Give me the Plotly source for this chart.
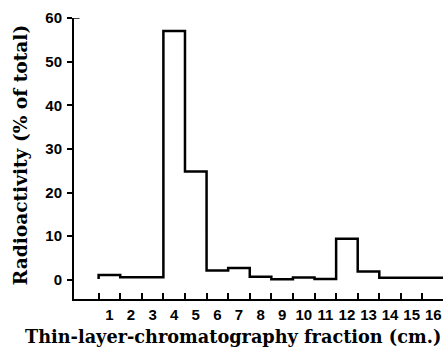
import plotly.graph_objects as go

# Data
fractions = list(range(1, 17))                      # fraction number (cm)
tick_labels = [str(f) for f in fractions]
boundaries = list(range(0, 17))                     # bin edges in cm
radioactivity = [1.1, 0.6, 0.6, 57.0, 24.8, 2.15, 2.7, 0.7,
                 0.15, 0.55, 0.2, 9.4, 1.9, 0.45, 0.45, 0.45]
start_level = 0.2
y_ticks = [0, 10, 20, 30, 40, 50, 60]

# Build step line from bin edges and values
xs = [boundaries[0]]
ys = [start_level]
for i, v in enumerate(radioactivity):
    xs += [boundaries[i], boundaries[i + 1]]
    ys += [v, v]

fig = go.Figure()
fig.add_trace(go.Scatter(x=xs, y=ys, mode="lines",
                         line=dict(color="black", width=2.5),
                         hoverinfo="skip", showlegend=False))

centers = [b + 0.5 for b in boundaries[:-1]]
tick_font = dict(family="Liberation Sans", size=15, color="black", weight="bold")

fig.update_layout(
    width=443, height=356,
    margin=dict(l=74, r=0, t=18, b=57),
    paper_bgcolor="white", plot_bgcolor="white",
    font=dict(family="Liberation Sans", color="black", size=15),
    xaxis=dict(
        range=[-1.14, 15.95], automargin=False,
        showline=True, linecolor="black", linewidth=2,
        showgrid=False, zeroline=False,
        tickmode="array", tickvals=centers, ticktext=tick_labels,
        ticks="", ticklabelstandoff=1,
        tickfont=tick_font,
        minor=dict(tickmode="array", tickvals=boundaries[:-1],
                   ticks="inside", ticklen=6, tickwidth=1.5,
                   tickcolor="black", showgrid=False),
    ),
    yaxis=dict(
        range=[-4.4, 60], automargin=False,
        showline=True, linecolor="black", linewidth=2,
        showgrid=False, zeroline=False,
        tickmode="array", tickvals=y_ticks,
        ticks="outside", ticklen=5, tickwidth=1.5, tickcolor="black",
        tickfont=tick_font, ticklabelstandoff=2,
    ),
    shapes=[dict(type="line", xref="paper", yref="y",
                 x0=0, x1=0.015, y0=max(y_ticks), y1=max(y_ticks),
                 line=dict(color="black", width=1.5))],
    annotations=[
        dict(text="Thin-layer-chromatography fraction (cm.)",
             xref="paper", yref="paper", x=0.431, y=-0.135,
             xanchor="center", yanchor="middle", showarrow=False,
             font=dict(family="DejaVu Serif", size=17.7, color="black", weight="bold")),
        dict(text="Radioactivity (% of total)",
             xref="paper", yref="paper", x=-0.146, y=0.512,
             xanchor="center", yanchor="middle", showarrow=False,
             textangle=-90,
             font=dict(family="DejaVu Serif", size=18.6, color="black", weight="bold")),
    ],
)

fig.write_html("out.html", config={"displayModeBar": False},
               post_script="document.body.style.margin='0';")
